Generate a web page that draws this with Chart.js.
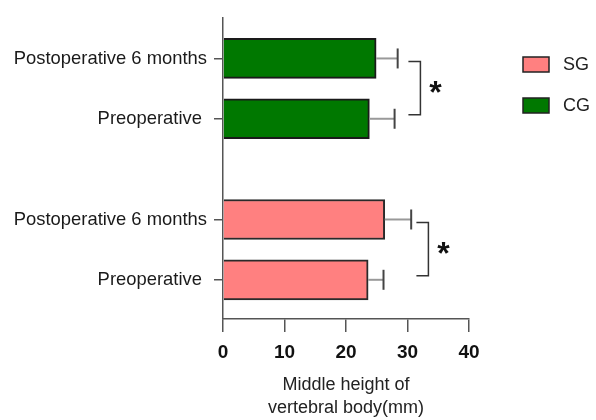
<!DOCTYPE html>
<html>
<head>
<meta charset="utf-8">
<script src="https://cdn.jsdelivr.net/npm/chart.js@4.4.1/dist/chart.umd.min.js"></script>
<style>
  html, body { margin: 0; padding: 0; background: #fff; }
  #contenedor { width: 596px; height: 420px; }
</style>
</head>
<body>
<div id="contenedor"><canvas id="grafico1"></canvas></div>
<script>
// filas del eje Y (de arriba hacia abajo) y su posicion en el eje
const filas = ["Postoperative 6 months", "Preoperative ", "Postoperative 6 months", "Preoperative "];
const posFilas = [0, 1, 2.67, 3.67];

// medias y desviaciones (mm)
const grupos = ["SG", "CG"];
const mediasSG = [26.3, 23.6];
const desvSG = [4.3, 2.5];
const mediasCG = [24.9, 23.8];
const desvCG = [3.5, 4.1];

const ticksX = [0, 10, 20, 30, 40];

// comparaciones significativas: pares de filas, posicion del corchete y texto
const sigFilas = [[0, 1], [2, 3]];
const sigX = [32.1, 33.4];
const sigTexto = ["*", "*"];

const fuente = "'Liberation Sans', Arial, sans-serif";
const colorEje = "#555";

function puntos(medias, filasIdx) {
  return medias.map((m, i) => ({ x: m, y: posFilas[filasIdx[i]] }));
}

// barras de error (media + DE) con su tope
const pluginErrores = {
  id: "errores",
  afterDatasetsDraw(chart) {
    const ctx = chart.ctx;
    const xScale = chart.scales.x;
    ctx.save();
    ctx.lineWidth = 2;
    chart.data.datasets.forEach((ds, d) => {
      const meta = chart.getDatasetMeta(d);
      meta.data.forEach((bar, i) => {
        const fin = xScale.getPixelForValue(ds.data[i].x + ds.desv[i]);
        ctx.strokeStyle = "#999";
        ctx.beginPath();
        ctx.moveTo(bar.x, bar.y);
        ctx.lineTo(fin, bar.y);
        ctx.stroke();
        ctx.strokeStyle = "#444";
        ctx.beginPath();
        ctx.moveTo(fin, bar.y - 10);
        ctx.lineTo(fin, bar.y + 10);
        ctx.stroke();
      });
    });
    ctx.restore();
  },
};

// corchetes de significancia con asterisco
const pluginSignif = {
  id: "signif",
  afterDatasetsDraw(chart) {
    const ctx = chart.ctx;
    const xs = chart.scales.x;
    const ys = chart.scales.y;
    ctx.save();
    ctx.strokeStyle = "#333";
    ctx.lineWidth = 1.5;
    ctx.fillStyle = "#111";
    sigFilas.forEach((par, k) => {
      const y1 = ys.getPixelForValue(posFilas[par[0]]) + 3;
      const y2 = ys.getPixelForValue(posFilas[par[1]]) - 4;
      const xv = xs.getPixelForValue(sigX[k]);
      ctx.beginPath();
      ctx.moveTo(xv - 12, y1);
      ctx.lineTo(xv, y1);
      ctx.lineTo(xv, y2);
      ctx.lineTo(xv - 12, y2);
      ctx.stroke();
      ctx.font = "bold 32px " + fuente;
      ctx.textAlign = "center";
      ctx.textBaseline = "alphabetic";
      ctx.fillText(sigTexto[k], xv + 15, (y1 + y2) / 2 + 15);
    });
    ctx.restore();
  },
};

// leyenda a la derecha
const pluginLeyenda = {
  id: "leyenda",
  afterDraw(chart, args, opts) {
    const ctx = chart.ctx;
    ctx.save();
    chart.data.datasets.forEach((ds, i) => {
      const y = opts.y + i * opts.paso;
      ctx.fillStyle = ds.backgroundColor;
      ctx.fillRect(opts.x, y, 26, 15);
      ctx.strokeStyle = "#222";
      ctx.lineWidth = 1.5;
      ctx.strokeRect(opts.x, y, 26, 15);
      ctx.fillStyle = "#222";
      ctx.font = "18px " + fuente;
      ctx.textAlign = "left";
      ctx.textBaseline = "middle";
      ctx.fillText(ds.label, opts.x + 40, y + 8);
    });
    ctx.restore();
  },
};

const grafico = new Chart(document.getElementById("grafico1"), {
  type: "bar",
  data: {
    datasets: [
      {
        label: grupos[0],
        data: puntos(mediasSG, [2, 3]),
        desv: desvSG,
        backgroundColor: "#ff8080",
        borderColor: "#2a2a2a",
        borderWidth: 2,
      },
      {
        label: grupos[1],
        data: puntos(mediasCG, [0, 1]),
        desv: desvCG,
        backgroundColor: "#007800",
        borderColor: "#1a1a1a",
        borderWidth: 2,
      },
    ],
  },
  options: {
    indexAxis: "y",
    responsive: true,
    maintainAspectRatio: false,
    animation: false,
    grouped: false,
    barThickness: 40,
    layout: { padding: { left: 14, top: 15, right: 127, bottom: 0 } },
    scales: {
      y: {
        type: "linear",
        reverse: true,
        offset: false,
        min: -0.67,
        max: 4.32,
        bounds: "data",
        afterBuildTicks: (scale) => {
          scale.ticks = posFilas.map((v) => ({ value: v }));
        },
        afterFit: (scale) => {
          scale.width = 209;
        },
        ticks: {
          callback: (value, index) => filas[index],
          font: { family: fuente, size: 18.4 },
          color: "#1a1a1a",
          padding: 7,
          autoSkip: false,
        },
        grid: {
          offset: false,
          drawOnChartArea: false,
          tickLength: 9,
          color: colorEje,
          lineWidth: 1.5,
        },
        border: { color: colorEje, width: 1.5 },
      },
      x: {
        type: "linear",
        min: ticksX[0],
        max: ticksX[ticksX.length - 1],
        afterBuildTicks: (scale) => {
          scale.ticks = ticksX.map((v) => ({ value: v }));
        },
        afterFit: (scale) => {
          scale.height = 101;
        },
        ticks: {
          font: { family: fuente, size: 19, weight: "bold" },
          color: "#111",
          padding: 9,
        },
        grid: {
          drawOnChartArea: false,
          tickLength: 13,
          color: colorEje,
          lineWidth: 1.5,
        },
        border: { color: colorEje, width: 1.5 },
        title: {
          display: true,
          text: ["Middle height of", "vertebral body(mm)"],
          font: { family: fuente, size: 18, lineHeight: 1.28 },
          color: "#222",
          padding: { top: 0, bottom: 0 },
        },
      },
    },
    plugins: {
      legend: { display: false },
      tooltip: { enabled: false },
      leyenda: { x: 523, y: 57, paso: 41 },
    },
  },
  plugins: [pluginErrores, pluginSignif, pluginLeyenda],
});
</script>
</body>
</html>
